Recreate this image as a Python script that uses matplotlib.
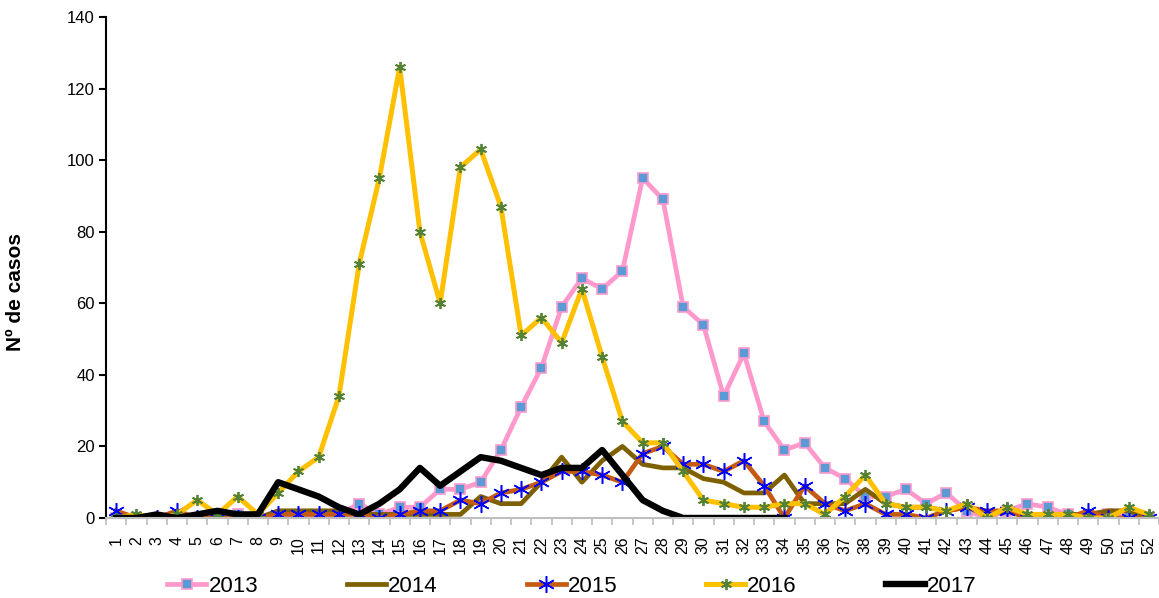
import matplotlib.pyplot as plt
from matplotlib.ticker import FixedLocator, NullFormatter

plt.rcParams['font.family'] = ['Liberation Sans', 'DejaVu Sans']

weeks = list(range(1, 53))

casos_2013 = [0, 0, 0, 0, 0, 0, 1, 0, 0, 0, 0, 1, 4, 1, 3, 3, 8, 8, 10, 19,
              31, 42, 59, 67, 64, 69, 95, 89, 59, 54, 34, 46, 27, 19, 21, 14,
              11, 6, 6, 8, 4, 7, 2, 0, 2, 4, 3, 1, 0, 1, 1, 0]
casos_2014 = [0, 0, 0, 0, 0, 0, 0, 0, 2, 2, 2, 2, 1, 1, 1, 1, 1, 1, 6, 4,
              4, 10, 17, 10, 16, 20, 15, 14, 14, 11, 10, 7, 7, 12, 4, 4,
              4, 8, 4, 3, 3, 2, 3, 1, 2, 1, 1, 1, 1, 2, 2, 0]
casos_2015 = [2, 0, 0, 2, 0, 0, 0, 0, 1, 1, 1, 1, 1, 0, 1, 2, 2, 5, 4, 7,
              8, 10, 13, 13, 12, 10, 18, 20, 15, 15, 13, 16, 9, 0, 9, 4,
              2, 4, 1, 1, 0, 2, 3, 2, 2, 0, 0, 0, 2, 0, 0, 0]
casos_2016 = [0, 1, 0, 1, 5, 1, 6, 1, 7, 13, 17, 34, 71, 95, 126, 80, 60, 98, 103, 87,
              51, 56, 49, 64, 45, 27, 21, 21, 13, 5, 4, 3, 3, 4, 4, 1,
              6, 12, 4, 3, 3, 2, 4, 0, 3, 1, 1, 1, 0, 0, 3, 1]
casos_2017 = [0, 0, 1, 0, 1, 2, 1, 1, 10, 8, 6, 3, 1, 4, 8, 14, 9, 13, 17, 16,
              14, 12, 14, 14, 19, 12, 5, 2, 0, 0, 0, 0, 0, 0]

asterisk = (6, 2, 0)

fig = plt.figure(figsize=(11.59, 5.98), dpi=100)
ax = fig.add_axes([0.0915, 0.1338, 0.9085, 0.8378])

ax.plot(weeks, casos_2013, color='#FF99CC', lw=3.4, marker='s', ms=6.5,
        mfc='#5B9BD5', mec='#FF99CC', mew=1.2, label='2013')
ax.plot(weeks, casos_2014, color='#7F6000', lw=3.4, label='2014')
ax.plot(weeks, casos_2015, color='#C55A11', lw=3.4, marker=asterisk, ms=12,
        mec='#0000FF', mfc='none', mew=1.1, label='2015')
ax.plot(weeks, casos_2016, color='#FFC000', lw=3.6, marker=asterisk, ms=8,
        mec='#548235', mfc='none', mew=1.3, label='2016')
ax.plot(weeks[:len(casos_2017)], casos_2017, color='black', lw=4.6, label='2017')

ax.set_xlim(0.5, 52.5)
ax.set_ylim(0, 140)
ax.set_yticks(range(0, 141, 20))
ax.set_xticks(weeks)
ax.set_xticklabels([str(w) for w in weeks], rotation=90)
ax.xaxis.set_minor_locator(FixedLocator([w + 0.5 for w in range(0, 53)]))
ax.xaxis.set_minor_formatter(NullFormatter())
ax.tick_params(axis='x', which='major', length=0, labelsize=11.5, pad=13)
ax.tick_params(axis='x', which='minor', length=5, color='#BFBFBF', width=1.2)
ax.tick_params(axis='y', length=5, width=1.5, labelsize=12, pad=3)

for side in ('top', 'right'):
    ax.spines[side].set_visible(False)
ax.spines['left'].set_linewidth(1.5)
ax.spines['bottom'].set_color('#BFBFBF')
ax.spines['bottom'].set_linewidth(1.5)

ax.set_ylabel('Nº de casos', fontsize=15, fontweight='bold')
ax.yaxis.set_label_coords(-0.077, 0.451)

fig.legend(*ax.get_legend_handles_labels(), loc='center',
           bbox_to_anchor=(572 / 1159, 12 / 598), ncol=5, frameon=False,
           fontsize=16, handlelength=1.76, handletextpad=0.09, columnspacing=4.0)

fig.savefig('out.png', dpi=100)
